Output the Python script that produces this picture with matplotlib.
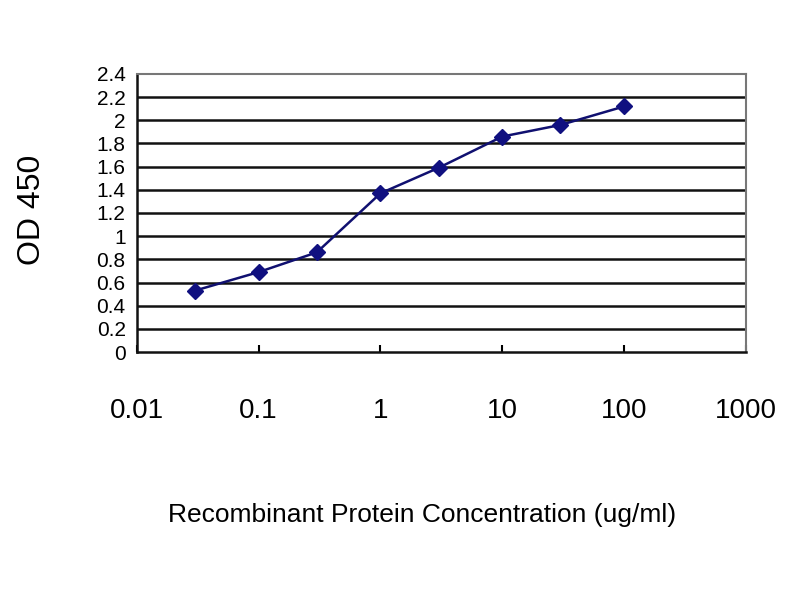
import matplotlib
matplotlib.use("Agg")
import matplotlib.pyplot as plt
import numpy as np

concentration = [0.03, 0.1, 0.3, 1, 3, 10, 30, 100]
od450 = [0.53, 0.69, 0.86, 1.37, 1.59, 1.86, 1.96, 2.12]
y_ticks = [0, 0.2, 0.4, 0.6, 0.8, 1, 1.2, 1.4, 1.6, 1.8, 2, 2.2, 2.4]
y_tick_labels = ["0", "0.2", "0.4", "0.6", "0.8", "1", "1.2", "1.4", "1.6", "1.8", "2", "2.2", "2.4"]
x_ticks = [0.01, 0.1, 1, 10, 100, 1000]
x_tick_labels = ["0.01", "0.1", "1", "10", "100", "1000"]

plt.rcParams['font.family'] = ['Liberation Sans', 'DejaVu Sans']

fig = plt.figure(figsize=(8, 6), dpi=100)
ax = fig.add_axes([0.171, 0.4133, 0.7615, 0.4634])

ax.set_xscale('log')
ax.set_xlim(0.01, 1000)
ax.set_ylim(0, 2.4)

for y in y_ticks[1:-1]:
    ax.axhline(y, color='#111111', linewidth=1.8, zorder=1)

ax.plot(concentration, od450, color='#101070', linewidth=1.8, marker='D',
        markersize=8, markerfacecolor='#101080', markeredgecolor='#101080', zorder=3)

ax.set_yticks(y_ticks)
ax.set_yticklabels(y_tick_labels, fontsize=15)
ax.set_xticks(x_ticks)
ax.set_xticklabels(x_tick_labels, fontsize=20)
ax.xaxis.set_minor_locator(matplotlib.ticker.NullLocator())
ax.tick_params(axis='x', direction='in', length=5, width=1.5, pad=33)
ax.tick_params(axis='y', length=0, pad=8)

for s in ['left', 'bottom']:
    ax.spines[s].set_color('#111111')
    ax.spines[s].set_linewidth(1.8)
for s in ['top', 'right']:
    ax.spines[s].set_color('#777777')
    ax.spines[s].set_linewidth(1.5)

ax.set_ylabel("OD 450", fontsize=23)
ax.yaxis.set_label_coords(-0.148, 0.51)
fig.text(0.528, 0.142, "Recombinant Protein Concentration (ug/ml)", fontsize=19,
         ha='center', va='center')

fig.savefig("out.png", dpi=100)
